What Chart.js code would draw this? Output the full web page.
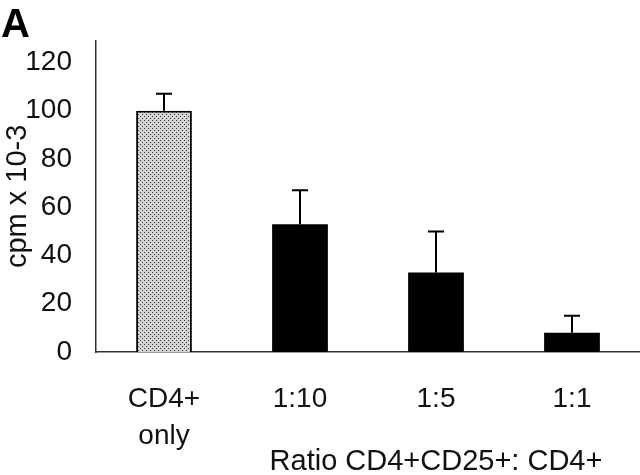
<!DOCTYPE html>
<html>
<head>
<meta charset="utf-8">
<script src="https://cdn.jsdelivr.net/npm/chart.js@4"></script>
<style>
  html, body { margin: 0; padding: 0; background: #fff; }
  #wrap { width: 640px; height: 475px; }
</style>
</head>
<body>
<div id="wrap"><canvas id="grafico" width="640" height="475"></canvas></div>
<script>
const categorias = [['CD4+', 'only'], '1:10', '1:5', '1:1'];
const medias = [100, 53, 33, 8];
const erros = [7, 14, 17, 7];
const yTicks = [0, 20, 40, 60, 80, 100, 120];
const tituloX = 'Ratio CD4+CD25+: CD4+';
const tituloY = 'cpm x 10-3';

// pontilhado do primeiro bar
function pontilhado() {
  const c = document.createElement('canvas');
  c.width = 4; c.height = 4;
  const g = c.getContext('2d');
  g.fillStyle = '#d4d4d4';
  g.fillRect(0, 0, 4, 4);
  g.fillStyle = '#333';
  g.fillRect(0, 0, 1, 1);
  g.fillRect(2, 2, 1, 1);
  return g.createPattern(c, 'repeat');
}

const familia = '"Liberation Sans", Arial, sans-serif';
const fonte = { family: familia, size: 28 };

const extras = {
  id: 'extras',
  afterDatasetsDraw(chart) {
    const ctx = chart.ctx;
    const y = chart.scales.y;
    const meta = chart.getDatasetMeta(0);
    ctx.save();
    ctx.strokeStyle = '#000';
    ctx.lineWidth = 2;
    meta.data.forEach((bar, i) => {
      const topo = y.getPixelForValue(medias[i] + erros[i]);
      const base = y.getPixelForValue(medias[i]);
      ctx.beginPath();
      ctx.moveTo(bar.x, base);
      ctx.lineTo(bar.x, topo);
      ctx.moveTo(bar.x - 8, topo);
      ctx.lineTo(bar.x + 8, topo);
      ctx.stroke();
    });
    ctx.restore();
  },
  afterDraw(chart) {
    const ctx = chart.ctx;
    const x = chart.scales.x;
    ctx.save();
    ctx.fillStyle = '#000';
    ctx.font = 'bold 40px ' + familia;
    ctx.textBaseline = 'alphabetic';
    ctx.textAlign = 'left';
    ctx.fillText('A', 1, 37);
    ctx.fillStyle = '#111';
    ctx.font = '29px ' + familia;
    ctx.textAlign = 'center';
    const cx = (x.getPixelForValue(1) + x.getPixelForValue(3)) / 2;
    ctx.fillText(tituloX, cx, chart.chartArea.bottom + 118);
    ctx.restore();
  }
};

const ctx = document.getElementById('grafico').getContext('2d');
new Chart(ctx, {
  type: 'bar',
  data: {
    labels: categorias,
    datasets: [{
      data: medias,
      backgroundColor: [pontilhado(), '#000', '#000', '#000'],
      borderColor: '#000',
      borderWidth: [2, 0, 0, 0],
      barPercentage: 0.41,
      categoryPercentage: 1
    }]
  },
  options: {
    responsive: false,
    animation: false,
    layout: { padding: { top: 38, right: 0, left: 0, bottom: 0 } },
    plugins: {
      legend: { display: false },
      tooltip: { enabled: false }
    },
    scales: {
      y: {
        min: 0,
        max: 129,
        afterFit: s => { s.width = 96; },
        grid: { display: false, drawTicks: false },
        border: { display: true, color: '#333', width: 1.5 },
        title: { display: true, text: tituloY, color: '#111', font: { family: familia, size: 29 }, padding: { top: 1, bottom: 0 } },
        afterBuildTicks: s => { s.ticks = yTicks.map(v => ({ value: v })); },
        ticks: { color: '#111', font: fonte, padding: 24 }
      },
      x: {
        afterFit: s => { s.height = 123; },
        grid: { display: false, drawTicks: false },
        border: { display: true, color: '#333', width: 1.5 },
        ticks: { color: '#111', font: { ...fonte, lineHeight: 1.35 }, padding: 28, maxRotation: 0, autoSkip: false }
      }
    }
  },
  plugins: [extras]
});
</script>
</body>
</html>
